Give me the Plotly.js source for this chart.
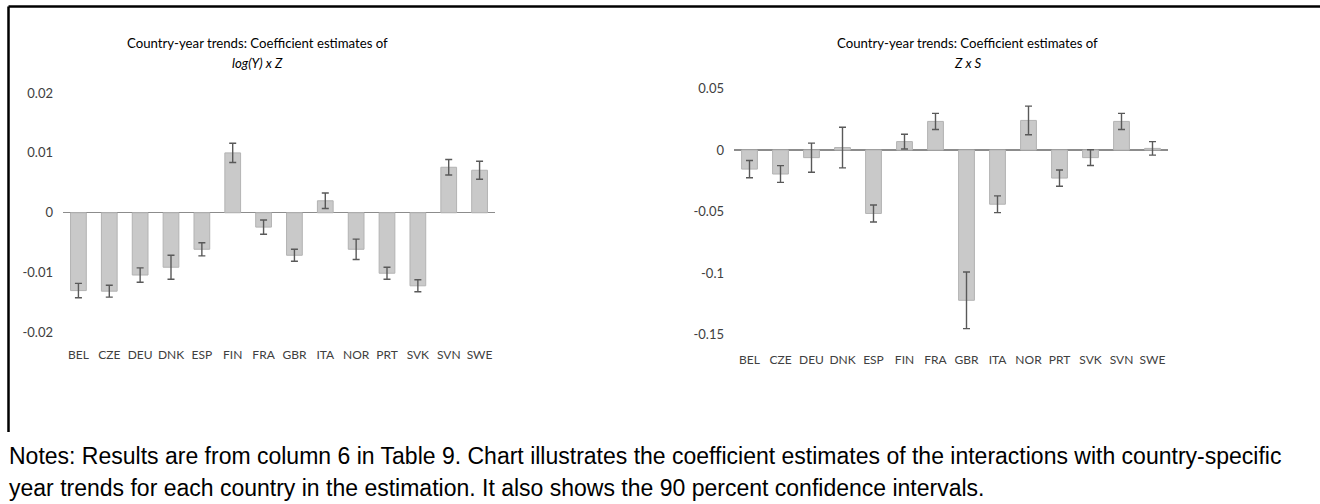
<!DOCTYPE html>
<html>
<head>
<meta charset="utf-8">
<script src="https://cdn.plot.ly/plotly-3.0.1.min.js"></script>
<style>
  html, body { margin: 0; padding: 0; background: #ffffff; }
  #chart { width: 1320px; height: 504px; }
</style>
</head>
<body>
<div id="chart"></div>
<script>
// Countries on both category axes
const countries = ['BEL', 'CZE', 'DEU', 'DNK', 'ESP', 'FIN', 'FRA', 'GBR', 'ITA', 'NOR', 'PRT', 'SVK', 'SVN', 'SWE'];

// Coefficient estimates of log(Y) x Z and their 90% CI half-widths
const coefLogYZ = [-0.0130, -0.0131, -0.0104, -0.0091, -0.0061, 0.0100, -0.0024, -0.0071, 0.0020, -0.0061, -0.0101, -0.0122, 0.0076, 0.0071];
const ciLogYZ   = [ 0.0012,  0.0010,  0.0012,  0.0020,  0.0011, 0.0016,  0.0012,  0.0010, 0.0013,  0.0017,  0.0010,  0.0010, 0.0013, 0.0015];

// Coefficient estimates of Z x S and their 90% CI half-widths
const coefZS = [-0.0155, -0.0195, -0.0062, 0.0020, -0.0515, 0.0068, 0.0232, -0.1220, -0.0440, 0.0240, -0.0228, -0.0062, 0.0232, 0.0013];
const ciZS   = [ 0.0070,  0.0068,  0.0118, 0.0165,  0.0069, 0.0060, 0.0065,  0.0230,  0.0068, 0.0116,  0.0066,  0.0064, 0.0065, 0.0055];

// Value-axis ticks
const tickValsLeft  = [-0.02, -0.01, 0, 0.01, 0.02];
const tickTextLeft  = ['-0.02', '-0.01', '0', '0.01', '0.02'];
const tickValsRight = [-0.15, -0.1, -0.05, 0, 0.05];
const tickTextRight = ['-0.15', '-0.1', '-0.05', '0', '0.05'];

// Text
const titleLine1 = 'Country-year trends: Coefficient estimates of';
const titleLeft2 = '<i>log(Y) x Z</i>';
const titleRight2 = '<i>Z x S</i>';
const notesLine1 = 'Notes: Results are from column 6 in Table 9. Chart illustrates the coefficient estimates of the interactions with country-specific';
const notesLine2 = 'year trends for each country in the estimation. It also shows the 90 percent confidence intervals.';

const W = 1320, H = 504;
const px = x => x / W;
const py = y => 1 - y / H;

const chartFont = 'Lato, "Open Sans", sans-serif';
const noteFont = '"Liberation Sans", Arial, sans-serif';
const textCol = '#404040';

const barStyle = {
  type: 'bar',
  marker: { color: '#c9c9c9', line: { color: '#b3b3b3', width: 1 } },
  hoverinfo: 'skip'
};
const errStyle = { type: 'data', visible: true, color: '#595959', thickness: 1.4, width: 3.5 };

const traces = [
  Object.assign({}, barStyle, {
    x: countries, y: coefLogYZ, xaxis: 'x', yaxis: 'y',
    error_y: Object.assign({ array: ciLogYZ }, errStyle)
  }),
  Object.assign({}, barStyle, {
    x: countries, y: coefZS, xaxis: 'x2', yaxis: 'y2',
    error_y: Object.assign({ array: ciZS }, errStyle)
  })
];

const catAxis = {
  type: 'category',
  showgrid: false, showline: false, zeroline: false, ticks: '',
  tickfont: { family: chartFont, size: 12, color: textCol },
  fixedrange: true
};
const valAxis = {
  showgrid: false, showline: false, ticks: '',
  zeroline: true, zerolinecolor: '#8c8c8c', zerolinewidth: 1.2,
  tickmode: 'array',
  ticklabelstandoff: 9,
  tickfont: { family: chartFont, size: 13, color: textCol },
  fixedrange: true
};

const annot = (text, x, y, font, xanchor) => ({
  text: text, xref: 'paper', yref: 'paper', x: px(x), y: py(y),
  xanchor: xanchor || 'center', yanchor: 'middle', showarrow: false,
  font: font
});
const titleFont = { family: chartFont, size: 13.2, color: '#000000' };
const notesFont = { family: noteFont, size: 23, color: '#000000' };

const layout = {
  width: W, height: H,
  margin: { l: 0, r: 0, t: 0, b: 0 },
  paper_bgcolor: '#ffffff', plot_bgcolor: 'rgba(0,0,0,0)',
  showlegend: false,
  bargap: 0.49,
  xaxis: Object.assign({}, catAxis, { domain: [px(63), px(495)], anchor: 'y', ticklabelstandoff: 13 }),
  yaxis: Object.assign({}, valAxis, {
    domain: [py(332.5), py(93)], anchor: 'x',
    range: [-0.02, 0.02], tickvals: tickValsLeft, ticktext: tickTextLeft
  }),
  xaxis2: Object.assign({}, catAxis, { domain: [px(734), px(1168)], anchor: 'y2', ticklabelstandoff: 16 }),
  yaxis2: Object.assign({}, valAxis, {
    domain: [py(334.8), py(88.4)], anchor: 'x2',
    range: [-0.15, 0.05], tickvals: tickValsRight, ticktext: tickTextRight
  }),
  shapes: [
    { type: 'line', xref: 'paper', yref: 'paper', x0: px(8.5), x1: px(1320), y0: py(6.5), y1: py(6.5), line: { color: '#000000', width: 2.5 } },
    { type: 'line', xref: 'paper', yref: 'paper', x0: px(8.5), x1: px(8.5), y0: py(6.5), y1: py(432), line: { color: '#000000', width: 2.5 } }
  ],
  annotations: [
    annot(titleLine1, 257, 43, titleFont),
    annot(titleLeft2, 257, 63, titleFont),
    annot(titleLine1, 968, 43, titleFont),
    annot(titleRight2, 968, 63, titleFont),
    annot(notesLine1, 7, 456, notesFont, 'left'),
    annot(notesLine2, 7, 488, notesFont, 'left')
  ]
};

Plotly.newPlot('chart', traces, layout, { staticPlot: true, displayModeBar: false });
</script>
</body>
</html>
